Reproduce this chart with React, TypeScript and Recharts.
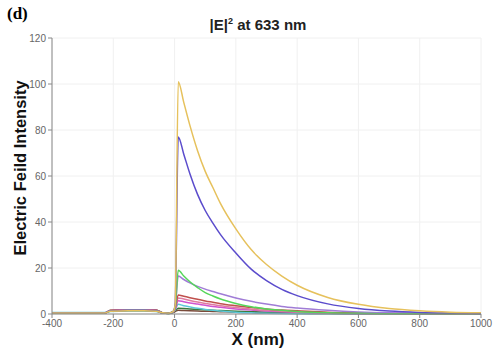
import { LineChart, Line, XAxis, YAxis, CartesianGrid } from 'recharts'

// x positions (nm) shared by every trace
const xNm = [-400, -300, -230, -210, -150, -100, -60, -40, -20, -5, 2, 12, 30, 50, 75, 100, 125, 150, 200, 250, 300, 350, 400, 500, 600, 700, 800, 900, 1000]

const yellow = [0.4, 0.4, 0.4, 1.2, 1.4, 1.4, 1.2, 0.5, 0.3, 1.0, 4, 101, 92, 82, 71, 62, 55, 48, 37, 28, 21.5, 16.5, 12.5, 7.2, 4.2, 2.4, 1.4, 0.8, 0.5]
const blue = [0.5, 0.5, 0.5, 1.3, 1.5, 1.5, 1.3, 0.5, 0.3, 1.0, 4, 77, 69.5, 61, 52, 45, 39.5, 34.5, 26.5, 19.5, 14.5, 10.7, 8, 4.4, 2.4, 1.3, 0.7, 0.4, 0.2]
const green = [0.4, 0.4, 0.4, 1.2, 1.5, 1.5, 1.3, 0.5, 0.3, 1.0, 3, 19, 16.5, 14, 11.5, 9.3, 7.8, 6.5, 4.6, 3.2, 2.2, 1.6, 1.1, 0.5, 0.3, 0.1, 0.1, 0.1, 0.1]
const violet = [0.4, 0.4, 0.4, 1.4, 1.7, 1.7, 1.5, 0.5, 0.3, 1.0, 3, 16.5, 15, 13.5, 12, 10.8, 9.8, 8.8, 7, 5.5, 4.3, 3.3, 2.6, 1.6, 0.9, 0.5, 0.3, 0.2, 0.1]
const red = [0.3, 0.3, 0.3, 1.5, 1.8, 1.8, 1.6, 0.6, 0.3, 1.0, 2.5, 8.3, 7.7, 7.1, 6.4, 5.7, 5.1, 4.5, 3.6, 2.8, 2.2, 1.7, 1.4, 0.8, 0.5, 0.3, 0.2, 0.1, 0.1]
const pink = [0.3, 0.3, 0.3, 1.3, 1.6, 1.6, 1.4, 0.5, 0.3, 0.9, 2.2, 7, 6.5, 5.9, 5.2, 4.6, 4.1, 3.6, 2.8, 2.1, 1.6, 1.2, 0.9, 0.5, 0.3, 0.2, 0.1, 0.1, 0.1]
const magenta = [0.3, 0.3, 0.3, 1.4, 1.7, 1.7, 1.5, 0.5, 0.3, 0.9, 2, 5.8, 5.3, 4.8, 4.3, 3.8, 3.3, 2.9, 2.2, 1.7, 1.3, 1.0, 0.75, 0.4, 0.2, 0.1, 0.1, 0.1, 0.1]
const cyan = [0.6, 0.6, 0.6, 1.1, 1.3, 1.3, 1.1, 0.4, 0.2, 0.8, 1.8, 4.2, 3.6, 3.1, 2.5, 2.0, 1.6, 1.3, 0.8, 0.5, 0.3, 0.2, 0.15, 0.1, 0.1, 0.1, 0.1, 0.1, 0.1]
const darkGreen = [0.3, 0.3, 0.3, 1.3, 1.6, 1.6, 1.4, 0.5, 0.2, 0.7, 1.4, 2.5, 2.4, 2.2, 2.0, 1.8, 1.65, 1.5, 1.2, 1.0, 0.8, 0.65, 0.5, 0.3, 0.2, 0.15, 0.1, 0.1, 0.1]
const brown = [0.3, 0.3, 0.3, 1.6, 1.9, 1.9, 1.7, 0.6, 0.2, 0.6, 1.1, 1.6, 1.5, 1.4, 1.3, 1.2, 1.1, 1.0, 0.8, 0.6, 0.5, 0.4, 0.3, 0.2, 0.1, 0.1, 0.1, 0.1, 0.1]

const xTicks = [-400, -200, 0, 200, 400, 600, 800, 1000]
const yTicks = [0, 20, 40, 60, 80, 100, 120]

const series = [
  { key: 'brown', values: brown, color: '#7a4a3a' },
  { key: 'darkGreen', values: darkGreen, color: '#3c7a3c' },
  { key: 'cyan', values: cyan, color: '#5cc8d8' },
  { key: 'magenta', values: magenta, color: '#d052d0' },
  { key: 'pink', values: pink, color: '#e07aa0' },
  { key: 'red', values: red, color: '#c0504d' },
  { key: 'violet', values: violet, color: '#a07cd6' },
  { key: 'green', values: green, color: '#55d65a' },
  { key: 'blue', values: blue, color: '#5b4ccc' },
  { key: 'yellow', values: yellow, color: '#e6c15c' },
]

const data = xNm.map((x, i) => {
  const row: Record<string, number> = { x }
  series.forEach(s => { row[s.key] = s.values[i] })
  return row
})

const tick = { fontSize: 10, fill: '#666', fontFamily: 'Liberation Sans, Arial, sans-serif' }

export default function App() {
  return (
    <div style={{ position: 'absolute', left: 0, top: 0, width: 498, height: 350, background: '#fff', fontFamily: 'Liberation Sans, Arial, sans-serif' }}>
      <div style={{ position: 'absolute', left: 7, top: 4, fontFamily: 'Liberation Serif, Times New Roman, serif', fontWeight: 'bold', fontSize: 17 }}>(d)</div>
      <div style={{ position: 'absolute', left: 0, width: 516, top: 16, textAlign: 'center', fontWeight: 'bold', fontSize: 15, color: '#222' }}>
        |E|<sup style={{ fontSize: 9 }}>2</sup> at 633 nm
      </div>
      <div style={{ position: 'absolute', left: 20, top: 168, transform: 'translate(-50%, -50%) rotate(-90deg)', whiteSpace: 'nowrap', fontWeight: 'bold', fontSize: 16.5, color: '#111' }}>
        Electric Feild Intensity
      </div>
      <div style={{ position: 'absolute', left: 258, top: 340, transform: 'translate(-50%, -50%)', whiteSpace: 'nowrap', fontWeight: 'bold', fontSize: 17, color: '#111' }}>
        X (nm)
      </div>
      <LineChart width={498} height={350} data={data} margin={{ top: 38, right: 17, bottom: 0, left: 0 }}>
        <CartesianGrid stroke="#f0f0f0" />
        <XAxis
          dataKey="x"
          type="number"
          domain={[-400, 1000]}
          ticks={xTicks}
          height={36}
          tick={tick}
          tickSize={4}
          stroke="#888"
          interval={0}
        />
        <YAxis
          domain={[0, 120]}
          ticks={yTicks}
          width={52}
          tick={tick}
          tickSize={4}
          stroke="#888"
          interval={0}
        />
        {series.map(s => (
          <Line
            key={s.key}
            type="monotone"
            dataKey={s.key}
            stroke={s.color}
            strokeWidth={1.5}
            dot={false}
            isAnimationActive={false}
          />
        ))}
      </LineChart>
    </div>
  )
}
